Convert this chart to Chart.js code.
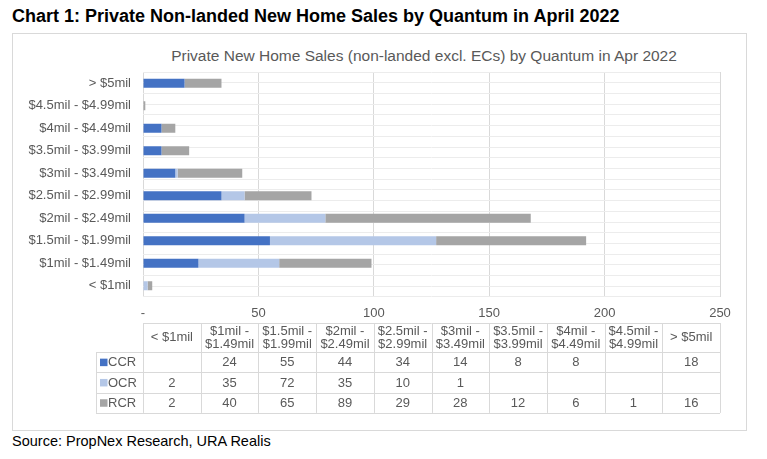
<!DOCTYPE html>
<html>
<head>
<meta charset="utf-8">
<script src="https://cdn.jsdelivr.net/npm/chart.js@4.4.0/dist/chart.umd.min.js"></script>
<style>
  html, body { margin: 0; padding: 0; background: #fff; overflow: hidden; }
  body { width: 767px; height: 459px; position: relative; font-family: "Liberation Sans", Arial, sans-serif; }
  #title { position: absolute; left: 12px; top: 6px; font-size: 18px; font-weight: bold; color: #000; white-space: nowrap; }
  #box { position: absolute; left: 12px; top: 33px; width: 733px; height: 396px; border: 1px solid #d9d9d9; }
  #innerTitle { position: absolute; left: 411px; top: 13px; transform: translateX(-50%); font-size: 15.5px; color: #595959; white-space: nowrap; }
  #wrap { position: absolute; left: 0; top: 0; width: 733px; height: 396px; }
  #source { position: absolute; left: 12px; top: 433px; font-size: 14.5px; color: #000; white-space: nowrap; }
</style>
</head>
<body>
<div id="title">Chart 1: Private Non-landed New Home Sales by Quantum in April 2022</div>
<div id="box">
  <div id="innerTitle">Private New Home Sales (non-landed excl. ECs) by Quantum in Apr 2022</div>
  <div id="wrap"><canvas id="chart"></canvas></div>
</div>
<div id="source">Source: PropNex Research, URA Realis</div>
<script>
// quantum bands, lowest first (same order as the data table)
const quantum = ['< $1mil', '$1mil - $1.49mil', '$1.5mil - $1.99mil', '$2mil - $2.49mil', '$2.5mil - $2.99mil',
                 '$3mil - $3.49mil', '$3.5mil - $3.99mil', '$4mil - $4.49mil', '$4.5mil - $4.99mil', '> $5mil'];
const ccr = [null, 24, 55, 44, 34, 14, 8, 8, null, 18];
const ocr = [2, 35, 72, 35, 10, 1, null, null, null, null];
const rcr = [2, 40, 65, 89, 29, 28, 12, 6, 1, 16];
const xTicks = [0, 50, 100, 150, 200, 250];

const FONT = '"Liberation Sans", Arial, sans-serif';
const GREY = '#595959';

// draws the Excel-style data table under the plot
const dataTable = {
    id: 'dataTable',
    afterDraw(chart) {
        const ctx = chart.ctx;
        const area = chart.chartArea;
        const n = quantum.length;
        const colW = (area.right - area.left) / n;
        const top = area.bottom + 26;
        const headH = 29;
        const rowH = 20.3;
        const labelLeft = area.left - 47;
        const bottom = top + headH + rowH * 3;
        const px = v => Math.round(v) + 0.5;

        ctx.save();
        ctx.strokeStyle = '#d9d9d9';
        ctx.lineWidth = 1;
        ctx.beginPath();
        // header top line
        ctx.moveTo(area.left, px(top));
        ctx.lineTo(area.right, px(top));
        // row lines
        for (let r = 0; r <= 3; r++) {
            const y = px(top + headH + r * rowH);
            ctx.moveTo(labelLeft, y);
            ctx.lineTo(area.right, y);
        }
        // column lines
        for (let c = 0; c <= n; c++) {
            const x = px(area.left + c * colW);
            ctx.moveTo(x, top);
            ctx.lineTo(x, bottom);
        }
        ctx.moveTo(px(labelLeft), top + headH);
        ctx.lineTo(px(labelLeft), bottom);
        ctx.stroke();

        ctx.font = '13px ' + FONT;
        ctx.fillStyle = GREY;
        ctx.textAlign = 'center';
        ctx.textBaseline = 'middle';

        // header
        quantum.forEach((q, i) => {
            const cx = area.left + (i + 0.5) * colW;
            const cy = top + headH / 2;
            const parts = q.split(' - ');
            if (parts.length === 2) {
                ctx.fillText(parts[0] + ' -', cx, cy - 6.5);
                ctx.fillText(parts[1], cx, cy + 6.5);
            } else {
                ctx.fillText(q, cx, cy);
            }
        });

        // series rows
        chart.data.datasets.forEach((ds, r) => {
            const cy = top + headH + (r + 0.5) * rowH;
            ctx.fillStyle = ds.backgroundColor;
            ctx.fillRect(labelLeft + 4, cy - 3.5, 7.5, 7.5);
            ctx.fillStyle = GREY;
            ctx.textAlign = 'left';
            ctx.fillText(ds.label, labelLeft + 12, cy + 0.5);
            ctx.textAlign = 'center';
            ds.data.forEach((v, i) => {
                if (v === null) return;
                ctx.fillText(String(v), area.left + (i + 0.5) * colW, cy + 0.5);
            });
        });
        ctx.restore();
    }
};

new Chart(document.getElementById('chart'), {
    type: 'bar',
    data: {
        labels: quantum,
        datasets: [
            { label: 'CCR', data: ccr, backgroundColor: '#4472c4' },
            { label: 'OCR', data: ocr, backgroundColor: '#b4c7e7' },
            { label: 'RCR', data: rcr, backgroundColor: '#a5a5a5' }
        ]
    },
    options: {
        indexAxis: 'y',
        responsive: true,
        maintainAspectRatio: false,
        animation: false,
        layout: { padding: { top: 38, right: 26, bottom: 108, left: 0 } },
        datasets: { bar: { categoryPercentage: 1, barPercentage: 0.4 } },
        plugins: {
            legend: { display: false },
            title: { display: false },
            tooltip: { enabled: false }
        },
        scales: {
            x: {
                stacked: true,
                min: 0,
                max: 250,
                afterBuildTicks: s => { s.ticks = xTicks.map(v => ({ value: v })); },
                afterFit: s => { s.height = 25; },
                grid: { color: '#d9d9d9', drawTicks: false },
                border: { display: false },
                ticks: {
                    padding: 9,
                    color: GREY,
                    font: { family: FONT, size: 13 },
                    callback: v => v === 0 ? '-' : v
                }
            },
            y: {
                stacked: true,
                reverse: true,
                afterFit: s => { s.width = 130; },
                grid: { display: false },
                border: { display: false },
                ticks: { padding: 4, color: GREY, font: { family: FONT, size: 13 } }
            },
            // light horizontal lines at half-category steps
            yGrid: {
                type: 'linear',
                position: 'left',
                min: 0,
                max: 20,
                afterBuildTicks: s => { s.ticks = Array.from({ length: 21 }, (_, i) => ({ value: i })); },
                afterFit: s => { s.width = 0; },
                grid: { color: '#ececec', drawTicks: false },
                border: { display: false },
                ticks: { display: false }
            }
        }
    },
    plugins: [dataTable]
});
</script>
</body>
</html>
